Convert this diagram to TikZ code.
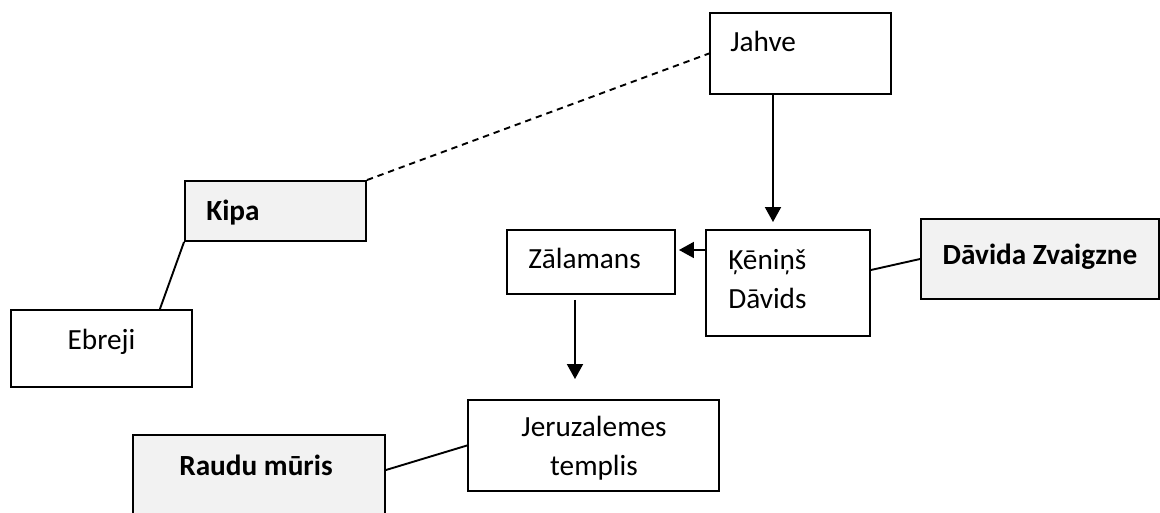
\documentclass[tikz,border=0pt]{standalone}
\usepackage{fontspec}
\setmainfont{Carlito}
\usetikzlibrary{arrows.meta}
\definecolor{boxgrey}{HTML}{F2F2F2}
\begin{document}
\begin{tikzpicture}
    [x=0.025cm, y=-0.025cm,
     box/.style={draw, line width=1.35pt, inner sep=0pt},
     greybox/.style={box, fill=boxgrey},
     txt/.style={inner sep=0pt, font=\fontsize{20.8}{28}\selectfont},
     boldtxt/.style={txt, font=\fontsize{20.8}{28}\selectfont\bfseries},
     link/.style={line width=1.35pt},
     arr/.style={link, -{Triangle[length=0.375cm, width=0.4cm]}}]
    \useasboundingbox (0,0) rectangle (1160,513);
    \clip (0,0) rectangle (1160,513);
    % boxes
    \node[box, minimum width=4.525cm, minimum height=2.025cm] (jahve) at (800.5,53.5) {};
    \node[greybox, minimum width=4.525cm, minimum height=1.5cm] (kipa) at (275.5,211) {};
    \node[box, minimum width=4.525cm, minimum height=1.925cm] (ebreji) at (101.5,348.5) {};
    \node[box, minimum width=4.2cm, minimum height=1.6cm] (zalamans) at (591,262) {};
    \node[box, minimum width=4.1cm, minimum height=2.65cm] (kenins) at (788,283) {};
    \node[greybox, minimum width=5.95cm, minimum height=2cm] (zvaigzne) at (1040,259) {};
    \node[box, minimum width=6.275cm, minimum height=2.275cm] (templis) at (593.5,445.5) {};
    \node[greybox, minimum width=6.3cm, minimum height=2.5cm] (raudu) at (259,485) {};
    % texts
    \node[txt, anchor=base west] (jahvetxt) at (730,52) {Jahve};
    \node[boldtxt, anchor=base west] (kipatxt) at (206,220) {Kipa};
    \node[txt, anchor=base] (ebrejitxt) at (101.5,349) {Ebreji};
    \node[txt, anchor=base west] (zalamanstxt) at (528,268) {Zālamans};
    \node[txt, anchor=base west] (keninstxt) at (728,269) {Ķēniņš};
    \node[txt, anchor=base west] (davidstxt) at (728,308) {Dāvids};
    \node[boldtxt, anchor=base] (zvaigznetxt) at (1040,264) {Dāvida Zvaigzne};
    \node[txt, align=center] (templistxt) at (594,448) {Jeruzalemes\\templis};
    \node[boldtxt, anchor=base] (raudutxt) at (256,475) {Raudu mūris};
    % connectors
    \coordinate (jk) at ([xshift=-0.375cm]kenins.north);
    \coordinate (kz) at ([yshift=0.825cm]kenins.west);
    \coordinate (zt) at ([xshift=-0.4cm]zalamans.south);
    \draw[link, dashed, dash pattern=on 4.5pt off 3.5pt] (kipa.north east) -- (jahve.west);
    \draw[link] (kipa.south west) -- ([xshift=1.46cm]ebreji.north);
    \draw[arr, shorten >=0.175cm] (jahve.south -| jk) -- (jk);
    \draw[arr, shorten >=0.075cm] (kz) -- (zalamans.east |- kz);
    \draw[arr, shorten <=0.125cm, shorten >=0.5cm] (zt) -- (templis.north -| zt);
    \draw[link] ([yshift=0.325cm]kenins.east) -- (zvaigzne.west);
    \draw[link] ([yshift=0.375cm]raudu.east) -- (templis.west);
\end{tikzpicture}
\end{document}
